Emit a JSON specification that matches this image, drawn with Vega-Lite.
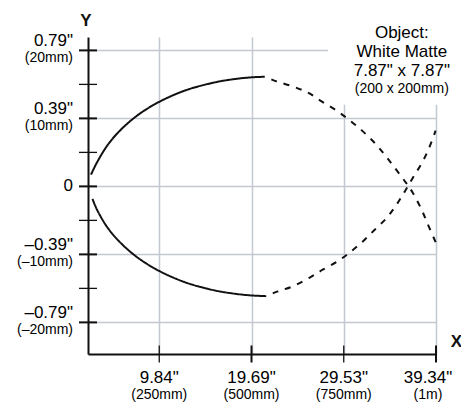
{
  "$schema": "https://vega.github.io/schema/vega-lite/v6.json",
  "width": 348,
  "height": 317,
  "autosize": "none",
  "padding": {"left": 88, "top": 37, "right": 25, "bottom": 52},
  "background": "white",
  "config": {
    "view": {"stroke": null},
    "font": "Liberation Sans",
    "text": {"font": "Liberation Sans", "color": "black"},
    "axis": {"grid": false, "domain": false, "ticks": false, "labels": false}
  },
  "datasets": {
    "curves": [
      {"x": 65, "y": 1.72, "seg": "upper", "zone": "measured"},
      {"x": 80.4, "y": 3.44, "seg": "upper", "zone": "measured"},
      {"x": 107.5, "y": 5.88, "seg": "upper", "zone": "measured"},
      {"x": 134.6, "y": 7.7, "seg": "upper", "zone": "measured"},
      {"x": 170.6, "y": 9.57, "seg": "upper", "zone": "measured"},
      {"x": 206.7, "y": 11.05, "seg": "upper", "zone": "measured"},
      {"x": 250, "y": 12.44, "seg": "upper", "zone": "measured"},
      {"x": 297, "y": 13.62, "seg": "upper", "zone": "measured"},
      {"x": 333, "y": 14.34, "seg": "upper", "zone": "measured"},
      {"x": 378.4, "y": 15.02, "seg": "upper", "zone": "measured"},
      {"x": 414.4, "y": 15.45, "seg": "upper", "zone": "measured"},
      {"x": 459.6, "y": 15.82, "seg": "upper", "zone": "measured"},
      {"x": 500, "y": 16.04, "seg": "upper", "zone": "measured"},
      {"x": 536, "y": 16.12, "seg": "upper", "zone": "measured"},
      {"x": 69, "y": -1.85, "seg": "lower", "zone": "measured"},
      {"x": 82, "y": -3.5, "seg": "lower", "zone": "measured"},
      {"x": 107.5, "y": -5.88, "seg": "lower", "zone": "measured"},
      {"x": 134.6, "y": -7.7, "seg": "lower", "zone": "measured"},
      {"x": 170.6, "y": -9.57, "seg": "lower", "zone": "measured"},
      {"x": 206.7, "y": -11.05, "seg": "lower", "zone": "measured"},
      {"x": 250, "y": -12.44, "seg": "lower", "zone": "measured"},
      {"x": 297, "y": -13.62, "seg": "lower", "zone": "measured"},
      {"x": 333, "y": -14.34, "seg": "lower", "zone": "measured"},
      {"x": 378.4, "y": -15.02, "seg": "lower", "zone": "measured"},
      {"x": 414.4, "y": -15.45, "seg": "lower", "zone": "measured"},
      {"x": 459.6, "y": -15.82, "seg": "lower", "zone": "measured"},
      {"x": 500, "y": -16.04, "seg": "lower", "zone": "measured"},
      {"x": 540, "y": -16.14, "seg": "lower", "zone": "measured"},
      {"x": 536, "y": 16.12, "seg": "upperX", "zone": "estimated"},
      {"x": 568, "y": 15.44, "seg": "upperX", "zone": "estimated"},
      {"x": 612, "y": 14.7, "seg": "upperX", "zone": "estimated"},
      {"x": 653, "y": 13.78, "seg": "upperX", "zone": "estimated"},
      {"x": 690, "y": 12.5, "seg": "upperX", "zone": "estimated"},
      {"x": 730, "y": 11.17, "seg": "upperX", "zone": "estimated"},
      {"x": 766.5, "y": 9.7, "seg": "upperX", "zone": "estimated"},
      {"x": 801.7, "y": 8.09, "seg": "upperX", "zone": "estimated"},
      {"x": 834, "y": 6.38, "seg": "upperX", "zone": "estimated"},
      {"x": 861, "y": 4.66, "seg": "upperX", "zone": "estimated"},
      {"x": 888, "y": 2.75, "seg": "upperX", "zone": "estimated"},
      {"x": 918, "y": 0.59, "seg": "upperX", "zone": "estimated"},
      {"x": 937, "y": -0.93, "seg": "upperX", "zone": "estimated"},
      {"x": 961, "y": -3.43, "seg": "upperX", "zone": "estimated"},
      {"x": 978, "y": -5.6, "seg": "upperX", "zone": "estimated"},
      {"x": 999, "y": -8.2, "seg": "upperX", "zone": "estimated"},
      {"x": 540, "y": -16.14, "seg": "lowerX", "zone": "estimated"},
      {"x": 571.5, "y": -15.44, "seg": "lowerX", "zone": "estimated"},
      {"x": 612, "y": -14.7, "seg": "lowerX", "zone": "estimated"},
      {"x": 658, "y": -13.4, "seg": "lowerX", "zone": "estimated"},
      {"x": 693, "y": -12.25, "seg": "lowerX", "zone": "estimated"},
      {"x": 734, "y": -11.0, "seg": "lowerX", "zone": "estimated"},
      {"x": 766.5, "y": -9.7, "seg": "lowerX", "zone": "estimated"},
      {"x": 801.7, "y": -8.09, "seg": "lowerX", "zone": "estimated"},
      {"x": 834, "y": -6.37, "seg": "lowerX", "zone": "estimated"},
      {"x": 866, "y": -4.65, "seg": "lowerX", "zone": "estimated"},
      {"x": 893, "y": -2.69, "seg": "lowerX", "zone": "estimated"},
      {"x": 915.5, "y": -0.74, "seg": "lowerX", "zone": "estimated"},
      {"x": 937, "y": 1.24, "seg": "lowerX", "zone": "estimated"},
      {"x": 964, "y": 3.68, "seg": "lowerX", "zone": "estimated"},
      {"x": 983, "y": 5.88, "seg": "lowerX", "zone": "estimated"},
      {"x": 999, "y": 8.2, "seg": "lowerX", "zone": "estimated"}
    ],
    "yMajor": [{"v": 20}, {"v": 10}, {"v": 0}, {"v": -10}, {"v": -20}],
    "yMinor": [{"v": 15}, {"v": 5}, {"v": -5}, {"v": -15}],
    "xMajor": [{"v": 500}, {"v": 1000}],
    "xMinor": [{"v": 250}, {"v": 750}],
    "yLabels": [
      {"v": 20, "l1": "0.79\"", "l2": "(20mm)"},
      {"v": 10, "l1": "0.39\"", "l2": "(10mm)"},
      {"v": -10, "l1": "–0.39\"", "l2": "(–10mm)"},
      {"v": -20, "l1": "–0.79\"", "l2": "(–20mm)"}
    ],
    "yZero": [{"v": 0, "l1": "0"}],
    "xLabels": [
      {"v": 250, "l1": "9.84\"", "l2": "(250mm)"},
      {"v": 500, "l1": "19.69\"", "l2": "(500mm)"},
      {"v": 750, "l1": "29.53\"", "l2": "(750mm)"}
    ],
    "xLast": [{"v": 1000, "l1": "39.34\"", "l2": "(1m)"}]
  },
  "layer": [
    {
      "data": {"name": "curves"},
      "mark": {"type": "line", "color": "#111111", "strokeWidth": 2, "interpolate": "catmull-rom", "strokeDashOffset": 6},
      "encoding": {
        "x": {"field": "x", "type": "quantitative",
          "scale": {"domain": [56.9, 1000], "nice": false, "zero": false},
          "axis": {"values": [250, 500, 750, 1000], "grid": true, "gridColor": "#c4c8d0", "gridWidth": 1.5,
            "ticks": false, "labels": false, "domain": true, "domainColor": "#111111", "domainWidth": 2,
            "title": "X", "titleX": 368, "titleY": -8, "titleAlign": "center", "titleBaseline": "alphabetic",
            "titleFontSize": 17, "titleFontWeight": "bold", "titleFont": "Liberation Sans", "titleColor": "#111111"}},
        "y": {"field": "y", "type": "quantitative",
          "scale": {"domain": [-24.65, 21.97], "nice": false, "zero": false},
          "axis": {"values": [-20, -15, -10, -5, 0, 5, 10, 15, 20], "grid": true, "gridColor": "#c4c8d0", "gridWidth": 1.5,
            "ticks": false, "labels": false, "domain": true, "domainColor": "#111111", "domainWidth": 2,
            "title": "Y", "titleAngle": 0, "titleX": -2.5, "titleY": -12, "titleAlign": "center", "titleBaseline": "alphabetic",
            "titleFontSize": 17, "titleFontWeight": "bold", "titleFont": "Liberation Sans", "titleColor": "#111111"}},
        "detail": {"field": "seg"},
        "strokeDash": {"field": "zone", "type": "nominal", "scale": {"domain": ["measured", "estimated"], "range": [[1, 0], [6, 7]]}, "legend": null}
      }
    },
    {
      "data": {"values": [{}]},
      "mark": {"type": "rect", "fill": "white"},
      "encoding": {
        "x": {"datum": 707, "type": "quantitative"},
        "x2": {"datum": 1100},
        "y": {"datum": 12.0, "type": "quantitative"},
        "y2": {"datum": 30}
      }
    },
    {
      "data": {"name": "curves"},
      "transform": [{"filter": "datum.x > 700 && datum.y > 11"}],
      "mark": {"type": "line", "color": "#111111", "strokeWidth": 2, "interpolate": "catmull-rom", "strokeDash": [6, 7], "strokeDashOffset": 6},
      "encoding": {
        "x": {"field": "x", "type": "quantitative"},
        "y": {"field": "y", "type": "quantitative"},
        "detail": {"field": "seg"}
      }
    },
    {
      "data": {"name": "yMajor"},
      "mark": {"type": "tick", "orient": "horizontal", "size": 18, "thickness": 2, "color": "#111111", "opacity": 1},
      "encoding": {
        "x": {"datum": 56.9, "type": "quantitative"},
        "y": {"field": "v", "type": "quantitative"}
      }
    },
    {
      "data": {"name": "yMinor"},
      "mark": {"type": "tick", "orient": "horizontal", "size": 18, "thickness": 1.3, "color": "#111111", "opacity": 1},
      "encoding": {
        "x": {"datum": 56.9, "type": "quantitative"},
        "y": {"field": "v", "type": "quantitative"}
      }
    },
    {
      "data": {"name": "xMajor"},
      "mark": {"type": "tick", "orient": "vertical", "size": 17, "thickness": 2, "color": "#111111", "opacity": 1},
      "encoding": {
        "x": {"field": "v", "type": "quantitative"},
        "y": {"datum": -24.65, "type": "quantitative"}
      }
    },
    {
      "data": {"name": "xMinor"},
      "mark": {"type": "tick", "orient": "vertical", "size": 17, "thickness": 1.3, "color": "#111111", "opacity": 1},
      "encoding": {
        "x": {"field": "v", "type": "quantitative"},
        "y": {"datum": -24.65, "type": "quantitative"}
      }
    },
    {
      "data": {"name": "yLabels"},
      "mark": {"type": "text", "align": "right", "baseline": "alphabetic", "dx": -15, "dy": -4, "fontSize": 17},
      "encoding": {
        "x": {"datum": 56.9, "type": "quantitative"},
        "y": {"field": "v", "type": "quantitative"},
        "text": {"field": "l1"}
      }
    },
    {
      "data": {"name": "yLabels"},
      "mark": {"type": "text", "align": "right", "baseline": "alphabetic", "dx": -15, "dy": 12, "fontSize": 14},
      "encoding": {
        "x": {"datum": 56.9, "type": "quantitative"},
        "y": {"field": "v", "type": "quantitative"},
        "text": {"field": "l2"}
      }
    },
    {
      "data": {"name": "yZero"},
      "mark": {"type": "text", "align": "right", "baseline": "middle", "dx": -15, "fontSize": 17},
      "encoding": {
        "x": {"datum": 56.9, "type": "quantitative"},
        "y": {"field": "v", "type": "quantitative"},
        "text": {"field": "l1"}
      }
    },
    {
      "data": {"name": "xLabels"},
      "mark": {"type": "text", "align": "center", "baseline": "alphabetic", "dy": 29, "fontSize": 17},
      "encoding": {
        "x": {"field": "v", "type": "quantitative"},
        "y": {"datum": -24.65, "type": "quantitative"},
        "text": {"field": "l1"}
      }
    },
    {
      "data": {"name": "xLabels"},
      "mark": {"type": "text", "align": "center", "baseline": "alphabetic", "dy": 45, "fontSize": 14},
      "encoding": {
        "x": {"field": "v", "type": "quantitative"},
        "y": {"datum": -24.65, "type": "quantitative"},
        "text": {"field": "l2"}
      }
    },
    {
      "data": {"name": "xLast"},
      "mark": {"type": "text", "align": "center", "baseline": "alphabetic", "dx": -8, "dy": 29, "fontSize": 17},
      "encoding": {
        "x": {"field": "v", "type": "quantitative"},
        "y": {"datum": -24.65, "type": "quantitative"},
        "text": {"field": "l1"}
      }
    },
    {
      "data": {"name": "xLast"},
      "mark": {"type": "text", "align": "center", "baseline": "alphabetic", "dx": -8, "dy": 45, "fontSize": 14},
      "encoding": {
        "x": {"field": "v", "type": "quantitative"},
        "y": {"datum": -24.65, "type": "quantitative"},
        "text": {"field": "l2"}
      }
    },
    {
      "data": {"values": [{}]},
      "mark": {"type": "text", "align": "center", "baseline": "alphabetic", "fontSize": 17, "lineHeight": 19,
        "text": ["Object:", "White Matte", "7.87\" x 7.87\""]},
      "encoding": {
        "x": {"datum": 907.4, "type": "quantitative"},
        "y": {"datum": 21.87, "type": "quantitative"}
      }
    },
    {
      "data": {"values": [{}]},
      "mark": {"type": "text", "align": "center", "baseline": "alphabetic", "fontSize": 14, "text": "(200 x 200mm)"},
      "encoding": {
        "x": {"datum": 907.4, "type": "quantitative"},
        "y": {"datum": 13.78, "type": "quantitative"}
      }
    }
  ]
}
